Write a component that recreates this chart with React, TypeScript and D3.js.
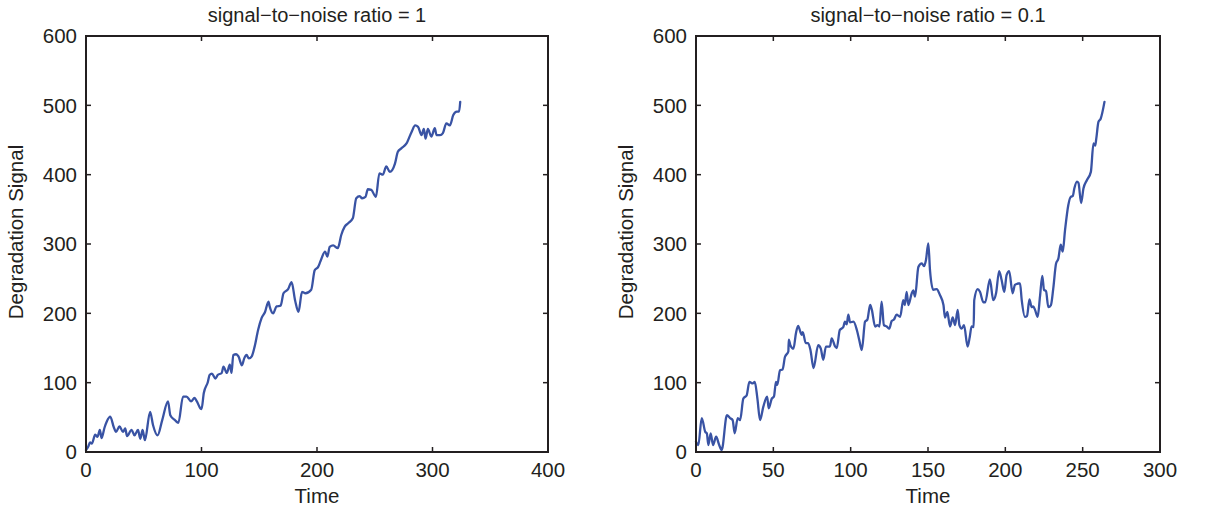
import React from 'react';
import * as d3 from 'd3';

// left panel: signal-to-noise ratio = 1
const leftTime = [0, 2, 3.5, 5, 8, 10, 12, 13.5, 16, 18, 21, 24, 26, 29, 32, 34, 35.5, 39.5, 42, 45, 47, 49, 51, 55.5, 58, 62, 66, 71, 73, 77, 80, 84, 87, 91, 94, 96, 99, 100, 102, 105.5, 107, 109, 112, 114, 117.5, 119, 122, 124.5, 126, 127.5, 130, 132, 135, 137, 139, 141, 143.5, 146, 149, 152, 155, 158, 159, 162, 165, 168.5, 171, 175, 178, 181, 184, 187, 190, 195, 198, 201, 203, 207, 209, 211, 214, 218, 221, 224, 227, 231, 234, 237, 239, 242, 244, 247, 251, 254, 257, 260, 263, 267.5, 270, 273, 277.5, 282, 285, 287.5, 290.5, 292.5, 294, 296, 299, 302, 303.5, 306.5, 309, 312, 315, 318, 321, 323, 324];
const leftSignal = [3, 8, 14, 12, 25, 22, 32, 20, 35, 44, 51, 36, 29, 37, 29, 34, 23, 32, 24, 32, 19, 32, 17, 58, 39, 24, 46, 73, 53, 46, 42, 80, 80, 73, 78, 73, 63, 62, 85, 101, 111, 113, 106, 111, 114, 123, 114, 126, 114, 140, 141, 138, 125, 135, 140, 135, 138, 152, 176, 193, 202, 217, 210, 200, 210, 211, 229, 235, 245, 219, 202, 231, 229, 234, 262, 267, 275, 289, 282, 296, 298, 294, 313, 325, 330, 337, 366, 369, 366, 368, 379, 378, 368, 402, 400, 412, 404, 416, 433, 438, 445, 462, 471, 469, 457, 466, 452, 466, 455, 467, 457, 457, 460, 474, 471, 486, 491, 491, 505];

// right panel: signal-to-noise ratio = 0.1
const rightTime = [0, 1.5, 3.7, 6, 7, 8, 9.5, 11, 13, 15, 16.6, 20, 22, 23.7, 25, 27, 28.5, 30.6, 32.8, 34.5, 36.7, 38, 39.7, 41.4, 43.5, 46, 47, 49, 50.4, 51.7, 52.6, 54.3, 56, 57.5, 59.7, 60, 61, 63, 64.6, 66, 68.3, 69, 71, 72.5, 74, 76, 79, 80.7, 82.3, 84, 86.6, 87.7, 90, 91, 93, 95.2, 96.3, 97.4, 98.5, 99.6, 101.8, 104, 105.6, 107.2, 109.3, 110.8, 112.6, 113.7, 115.8, 117.3, 118.6, 120, 121.5, 123.3, 125, 126.5, 128, 129.7, 132, 134, 135, 136.2, 137.3, 139.5, 140.5, 141.6, 143.8, 146, 147.4, 148.7, 150.2, 151.3, 153.4, 155.6, 157.8, 160, 161, 162.5, 164.2, 166, 167.5, 169.2, 170.3, 171.8, 173.3, 175.6, 177, 178.2, 179.5, 179.9, 182.1, 183.6, 185.8, 187, 190, 192.2, 194, 196, 197.6, 199.3, 200.8, 202.5, 204.7, 206.2, 208.4, 209.5, 210.6, 212.7, 214, 215.6, 217, 218, 219.2, 220.9, 222.4, 223.9, 225, 226.3, 227.8, 229.5, 231, 232.8, 234.3, 235.8, 237.1, 238.6, 240.7, 242.3, 243.6, 244.6, 246.3, 247.3, 249, 250.5, 252.7, 255.3, 257, 258.1, 258.8, 260.2, 261.7, 264.1];
const rightSignal = [15, 10, 49, 29, 27, 10, 27, 10, 22, 10, 3, 53, 49, 46, 27, 49, 46, 77, 82, 101, 99, 101, 77, 46, 65, 80, 63, 77, 80, 101, 97, 118, 119, 137, 145, 162, 154, 149, 171, 182, 169, 173, 157, 157, 147, 121, 154, 149, 133, 152, 152, 164, 152, 150, 176, 180, 188, 184, 198, 187, 188, 176, 161, 147, 188, 191, 212, 205, 181, 183, 181, 217, 183, 181, 178, 189, 191, 198, 195, 219, 212, 231, 212, 229, 233, 224, 267, 272, 268, 277, 301, 262, 234, 235, 226, 212, 194, 202, 181, 194, 183, 205, 183, 178, 183, 152, 166, 181, 180, 219, 235, 231, 216, 216, 249, 219, 229, 261, 248, 231, 255, 261, 229, 241, 243, 243, 219, 195, 196, 220, 209, 210, 205, 195, 224, 254, 234, 232, 209, 212, 236, 272, 279, 299, 289, 320, 356, 368, 369, 380, 390, 388, 359, 380, 392, 404, 445, 442, 452, 476, 481, 505];

const yTicks = [0, 100, 200, 300, 400, 500, 600];
const leftXTicks = [0, 100, 200, 300, 400];
const rightXTicks = [0, 50, 100, 150, 200, 250, 300];

const FONT = '"Liberation Sans", Arial, Helvetica, sans-serif';
const INK = '#231f20';
const LINE = '#3953a4';
const TOP = 36;
const BOTTOM = 452;

function Panel({ left, right, xMax, xTicks, time, signal, title }: {
  left: number; right: number; xMax: number; xTicks: number[];
  time: number[]; signal: number[]; title: string;
}) {
  const x = d3.scaleLinear().domain([0, xMax]).range([left, right]);
  const y = d3.scaleLinear().domain([0, 600]).range([BOTTOM, TOP]);
  const pts = time.map((t, i) => [t, signal[i]] as [number, number]);
  const line = d3.line<[number, number]>().x(d => x(d[0])).y(d => y(d[1])).curve(d3.curveMonotoneX);
  const tl = 5;
  const mid = (left + right) / 2;

  return (
    <g fontFamily={FONT} fill={INK}>
      <text x={mid} y={22} textAnchor="middle" fontSize={20}>{title}</text>
      <path d={line(pts) ?? ''} fill="none" stroke={LINE} strokeWidth={2.3} strokeLinejoin="round" strokeLinecap="round" />
      {yTicks.map(v => (
        <g key={'y' + v}>
          <line x1={left} x2={left + tl} y1={y(v)} y2={y(v)} stroke={INK} strokeWidth={1.5} />
          <line x1={right} x2={right - tl} y1={y(v)} y2={y(v)} stroke={INK} strokeWidth={1.5} />
          <text x={left - 9} y={y(v)} dy="0.36em" textAnchor="end" fontSize={20.5}>{v}</text>
        </g>
      ))}
      {xTicks.map(v => (
        <g key={'x' + v}>
          <line x1={x(v)} x2={x(v)} y1={BOTTOM} y2={BOTTOM - tl} stroke={INK} strokeWidth={1.5} />
          <line x1={x(v)} x2={x(v)} y1={TOP} y2={TOP + tl} stroke={INK} strokeWidth={1.5} />
          <text x={x(v)} y={477} textAnchor="middle" fontSize={20.5}>{v}</text>
        </g>
      ))}
      <rect x={left} y={TOP} width={right - left} height={BOTTOM - TOP} fill="none" stroke={INK} strokeWidth={2} />
      <text x={mid} y={503} textAnchor="middle" fontSize={20.5}>Time</text>
      <text transform={`translate(${left - 63},${232}) rotate(-90)`} textAnchor="middle" fontSize={20.5}>Degradation Signal</text>
    </g>
  );
}

export default function App() {
  return (
    <svg width={1208} height={514} style={{ position: 'absolute', left: 0, top: 0, background: '#fff' }}>
      <Panel left={86} right={548} xMax={400} xTicks={leftXTicks} time={leftTime} signal={leftSignal}
        title="signal−to−noise ratio = 1" />
      <Panel left={696} right={1160} xMax={300} xTicks={rightXTicks} time={rightTime} signal={rightSignal}
        title="signal−to−noise ratio = 0.1" />
    </svg>
  );
}
